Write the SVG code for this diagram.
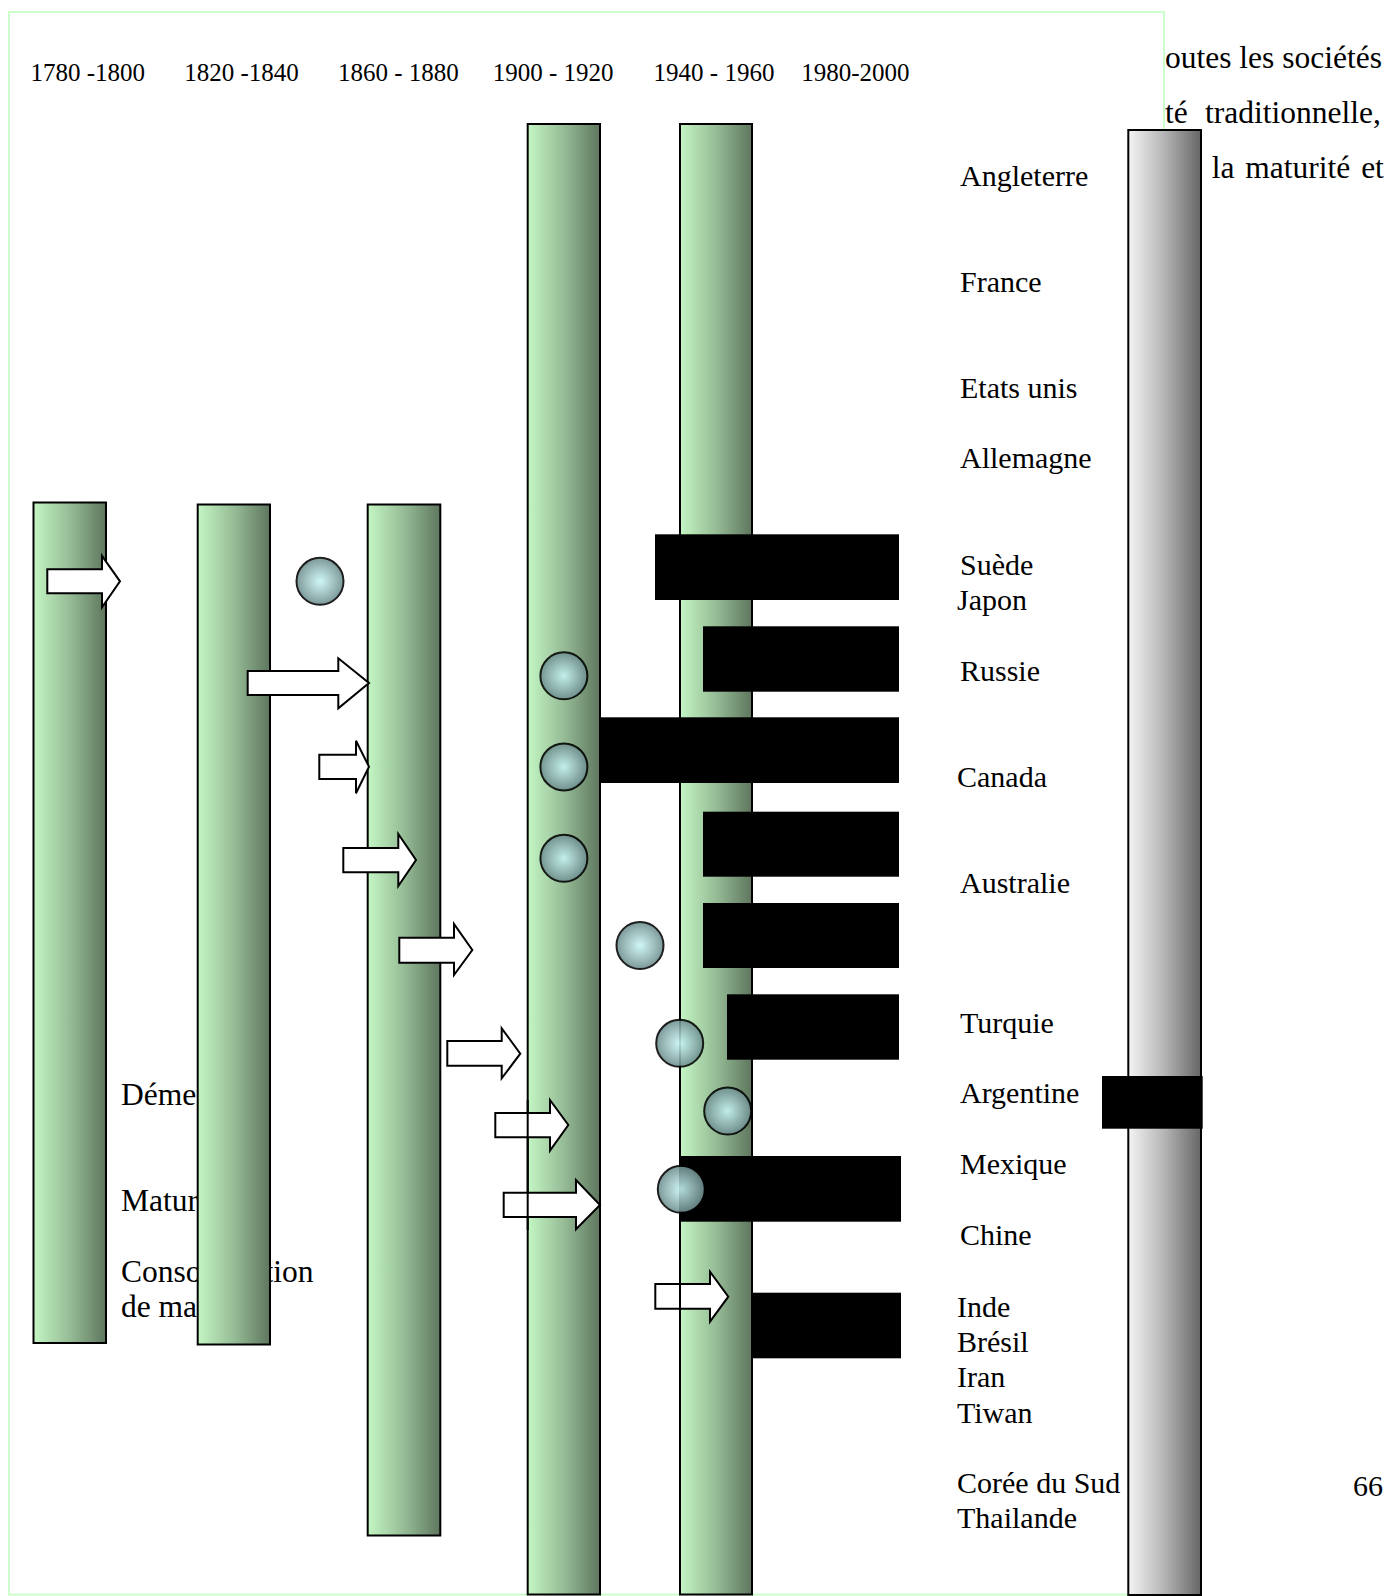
<svg xmlns="http://www.w3.org/2000/svg" width="1398" height="1596" viewBox="0 0 1398 1596">
<defs>
<linearGradient id="gGreen" x1="0" y1="0" x2="1" y2="0">
<stop offset="0" stop-color="#c4f6c4"/>
<stop offset="0.5" stop-color="#96bc96"/>
<stop offset="1" stop-color="#5e765e"/>
</linearGradient>
<linearGradient id="gGray" x1="0" y1="0" x2="1" y2="0">
<stop offset="0" stop-color="#f4f4f4"/>
<stop offset="0.5" stop-color="#b4b4b4"/>
<stop offset="1" stop-color="#666666"/>
</linearGradient>
<radialGradient id="gBall" cx="0.5" cy="0.5" r="0.5">
<stop offset="0" stop-color="#c8f6f6"/>
<stop offset="0.55" stop-color="#98bcbc"/>
<stop offset="1" stop-color="#6c8c8c"/>
</radialGradient>
</defs>
<style>
.frame{fill:#ffffff;stroke:#ccffcc;stroke-width:2}
.bar{fill:url(#gGreen);stroke:#000;stroke-width:2}
.gbar{fill:url(#gGray);stroke:#000;stroke-width:2}
.blk{fill:#000}
.arr{fill:#fff;stroke:#000;stroke-width:2;stroke-linejoin:miter}
.ball{fill:url(#gBall);stroke:#000;stroke-width:2;opacity:0.88}
.edge{stroke:#000;stroke-width:2}
.yr{font-family:"Liberation Serif","Times New Roman",serif;font-size:25px;fill:#000}
.lb{font-family:"Liberation Serif","Times New Roman",serif;font-size:30px;fill:#000}
.st{font-family:"Liberation Serif","Times New Roman",serif;font-size:31.5px;fill:#000}
.para{font-family:"Liberation Serif","Times New Roman",serif;font-size:31.5px;fill:#000}
</style>

<g id="page-text">
<text class="para" x="1165" y="68">outes les sociétés</text>
<text class="para" x="1165" y="123">té<tspan x="1205">traditionnelle,</tspan></text>
<text class="para" x="1211.7" y="178" word-spacing="3">la maturité et</text>
<text class="lb" x="1353" y="1496">66</text>
</g>

<rect id="frame" class="frame" x="9" y="12" width="1155" height="1582.5"/>

<g id="stage-labels">
<text class="st" x="121" y="1105">Démen</text>
<text class="st" x="121" y="1211">Maturité</text>
<text class="st" x="121" y="1282">Consommation</text>
<text class="st" x="121" y="1317">de masse</text>
</g>

<g id="years">
<text class="yr" x="30.5" y="81">1780 -1800</text>
<text class="yr" x="184.3" y="81">1820 -1840</text>
<text class="yr" x="338" y="81">1860 - 1880</text>
<text class="yr" x="492.8" y="81">1900 - 1920</text>
<text class="yr" x="653.6" y="81">1940 - 1960</text>
<text class="yr" x="801.3" y="81">1980-2000</text>
</g>

<g id="bar-1780"><rect class="bar" x="33.5" y="502.5" width="72.5" height="840.5"/></g>
<g id="bar-1820"><rect class="bar" x="197.7" y="504.5" width="72.3" height="840"/></g>
<g id="bar-1860"><rect class="bar" x="367.7" y="504.5" width="72.6" height="1031"/></g>
<g id="bar-1900"><rect class="bar" x="527.7" y="124" width="72.3" height="1470.5"/></g>
<g id="bar-1940"><rect class="bar" x="680" y="124" width="72" height="1470.5"/></g>
<g id="bar-gray"><rect class="gbar" x="1128.3" y="130" width="72.7" height="1465"/></g>

<g id="blocks">
<rect class="blk" x="655" y="534.3" width="244" height="65.7"/>
<rect class="blk" x="703" y="626.3" width="196" height="65.4"/>
<rect class="blk" x="601" y="717.3" width="298" height="65.7"/>
<rect class="blk" x="703" y="811.7" width="196" height="65"/>
<rect class="blk" x="703" y="903" width="196" height="65"/>
<rect class="blk" x="727" y="994.3" width="172" height="65.4"/>
<rect class="blk" x="681" y="1156" width="220" height="65.7"/>
<rect class="blk" x="752.7" y="1292.7" width="148.3" height="65.6"/>
<rect class="blk" x="1102" y="1076" width="100.7" height="52.7"/>
</g>

<g id="connectors">
<polygon class="arr" points="47.3,569.3 102,569.3 102,556 120,581.3 102,607.3 102,593.3 47.3,593.3"/>
<polygon class="arr" points="247.7,671 338.3,671 338.3,658.3 369,683 338.3,708.3 338.3,695 247.7,695"/>
<polygon class="arr" points="319.3,754.7 356,754.7 356,740.7 369,766.7 356,793.3 356,779 319.3,779"/>
<polygon class="arr" points="343.3,848 398.3,848 398.3,834 416,860 398.3,886 398.3,872.3 343.3,872.3"/>
<polygon class="arr" points="399.3,937.7 454,937.7 454,924 472.3,950 454,975 454,962.7 399.3,962.7"/>
<polygon class="arr" points="447.3,1041 501.7,1041 501.7,1028.3 520.3,1053.7 501.7,1078.3 501.7,1065.7 447.3,1065.7"/>
<polygon class="arr" points="495.3,1113 550,1113 550,1100 568.3,1125 550,1150.7 550,1137.3 495.3,1137.3"/>
<polygon class="arr" points="503.7,1192.7 576,1192.7 576,1180 600,1205 576,1229.3 576,1217 503.7,1217"/>
<polygon class="arr" points="655.3,1284 710,1284 710,1271.7 728.3,1296.7 710,1321.7 710,1308.7 655.3,1308.7"/>
<line class="edge" x1="527.7" y1="1100" x2="527.7" y2="1230"/>
<line class="edge" x1="680" y1="1271" x2="680" y2="1322"/>
</g>

<g id="balls">
<circle class="ball" cx="320" cy="581.3" r="23.5"/>
<circle class="ball" cx="563.9" cy="675.8" r="23.5"/>
<circle class="ball" cx="563.9" cy="766.9" r="23.5"/>
<circle class="ball" cx="563.9" cy="858.3" r="23.5"/>
<circle class="ball" cx="640" cy="945.5" r="23.5"/>
<circle class="ball" cx="679.7" cy="1043.3" r="23.5"/>
<circle class="ball" cx="727.7" cy="1111" r="23.5"/>
<circle class="ball" cx="681.3" cy="1189.3" r="23.5"/>
</g>

<g id="countries">
<text class="lb" x="960" y="186">Angleterre</text>
<text class="lb" x="960" y="291.7">France</text>
<text class="lb" x="960" y="397.7">Etats unis</text>
<text class="lb" x="960" y="467.7">Allemagne</text>
<text class="lb" x="960" y="575">Suède</text>
<text class="lb" x="957" y="610">Japon</text>
<text class="lb" x="960" y="681">Russie</text>
<text class="lb" x="957" y="786.7">Canada</text>
<text class="lb" x="960" y="893.3">Australie</text>
<text class="lb" x="960" y="1033.3">Turquie</text>
<text class="lb" x="960" y="1103.3">Argentine</text>
<text class="lb" x="960" y="1174">Mexique</text>
<text class="lb" x="960" y="1245">Chine</text>
<text class="lb" x="957" y="1316.7">Inde</text>
<text class="lb" x="957" y="1351.7">Brésil</text>
<text class="lb" x="957" y="1386.7">Iran</text>
<text class="lb" x="957" y="1422.7">Tiwan</text>
<text class="lb" x="957" y="1493.3">Corée du Sud</text>
<text class="lb" x="957" y="1528.3">Thailande</text>
</g>
</svg>
